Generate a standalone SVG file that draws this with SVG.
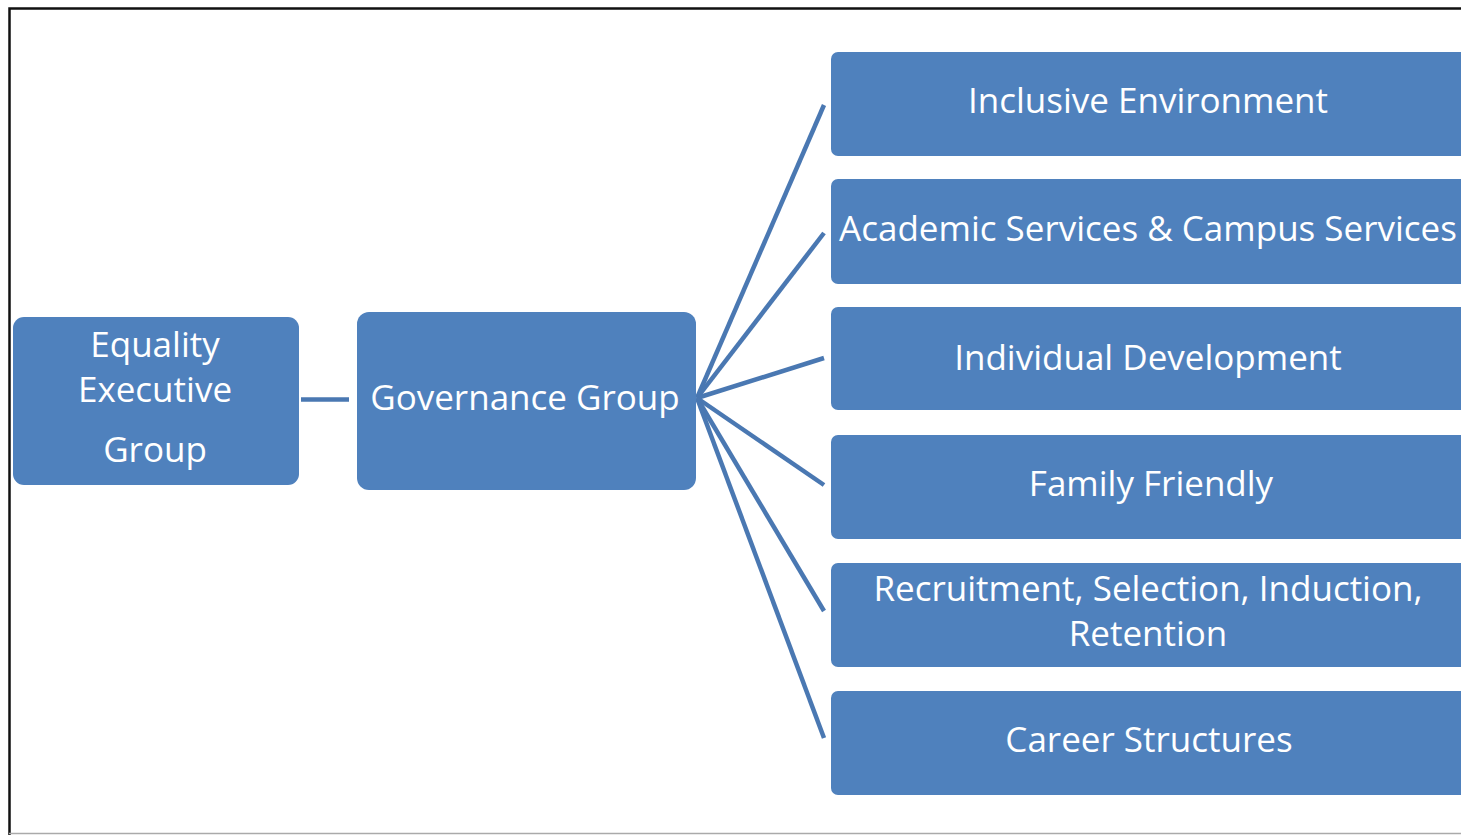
<svg xmlns="http://www.w3.org/2000/svg" width="1461" height="835" viewBox="0 0 1461 835">
  <style>
    .box { fill: #4f81bd; }
    .lbl { font-family: "Open Sans", "Liberation Sans", sans-serif; font-size: 35px; fill: #ffffff; text-anchor: middle; }
    .link { stroke: #4a78b2; stroke-width: 4.5; fill: none; stroke-linecap: butt; }
  </style>
  <rect width="1461" height="835" fill="#ffffff"/>
  <!-- frame -->
  <path d="M9.5 835 V8.5 H1461" fill="none" stroke="#111111" stroke-width="2.5"/>
  <line x1="9" y1="833.5" x2="1461" y2="833.5" stroke="#aaaaaa" stroke-width="1.5"/>

  <g id="connectors">
    <line class="link" x1="301" y1="399.5" x2="349" y2="399.5"/>
    <line class="link" x1="697" y1="398" x2="824" y2="105"/>
    <line class="link" x1="697" y1="398" x2="824" y2="233"/>
    <line class="link" x1="697" y1="398" x2="824" y2="358"/>
    <line class="link" x1="697" y1="398" x2="824" y2="485"/>
    <line class="link" x1="697" y1="398" x2="824" y2="611"/>
    <line class="link" x1="697" y1="398" x2="824" y2="738"/>
  </g>

  <g id="equality-executive-group">
    <rect class="box" x="13" y="317" width="286" height="168" rx="11"/>
    <text class="lbl" x="155" y="357">Equality</text>
    <text class="lbl" x="155" y="402">Executive</text>
    <text class="lbl" x="155" y="462">Group</text>
  </g>

  <g id="governance-group">
    <rect class="box" x="357" y="312" width="339" height="178" rx="12"/>
    <text class="lbl" x="525" y="410">Governance  Group</text>
  </g>

  <g id="inclusive-environment">
    <rect class="box" x="831" y="52" width="640" height="104" rx="7"/>
    <text class="lbl" x="1148" y="113">Inclusive Environment</text>
  </g>

  <g id="academic-campus-services">
    <rect class="box" x="831" y="179" width="640" height="105" rx="7"/>
    <text class="lbl" x="1148" y="241">Academic Services &amp; Campus Services</text>
  </g>

  <g id="individual-development">
    <rect class="box" x="831" y="307" width="640" height="103" rx="7"/>
    <text class="lbl" x="1148" y="370">Individual Development</text>
  </g>

  <g id="family-friendly">
    <rect class="box" x="831" y="435" width="640" height="104" rx="7"/>
    <text class="lbl" x="1151" y="496">Family Friendly</text>
  </g>

  <g id="recruitment">
    <rect class="box" x="831" y="563" width="640" height="104" rx="7"/>
    <text class="lbl" x="1148" y="601">Recruitment, Selection, Induction,</text>
    <text class="lbl" x="1148" y="646">Retention</text>
  </g>

  <g id="career-structures">
    <rect class="box" x="831" y="691" width="640" height="104" rx="7"/>
    <text class="lbl" x="1149" y="752">Career Structures</text>
  </g>
</svg>
